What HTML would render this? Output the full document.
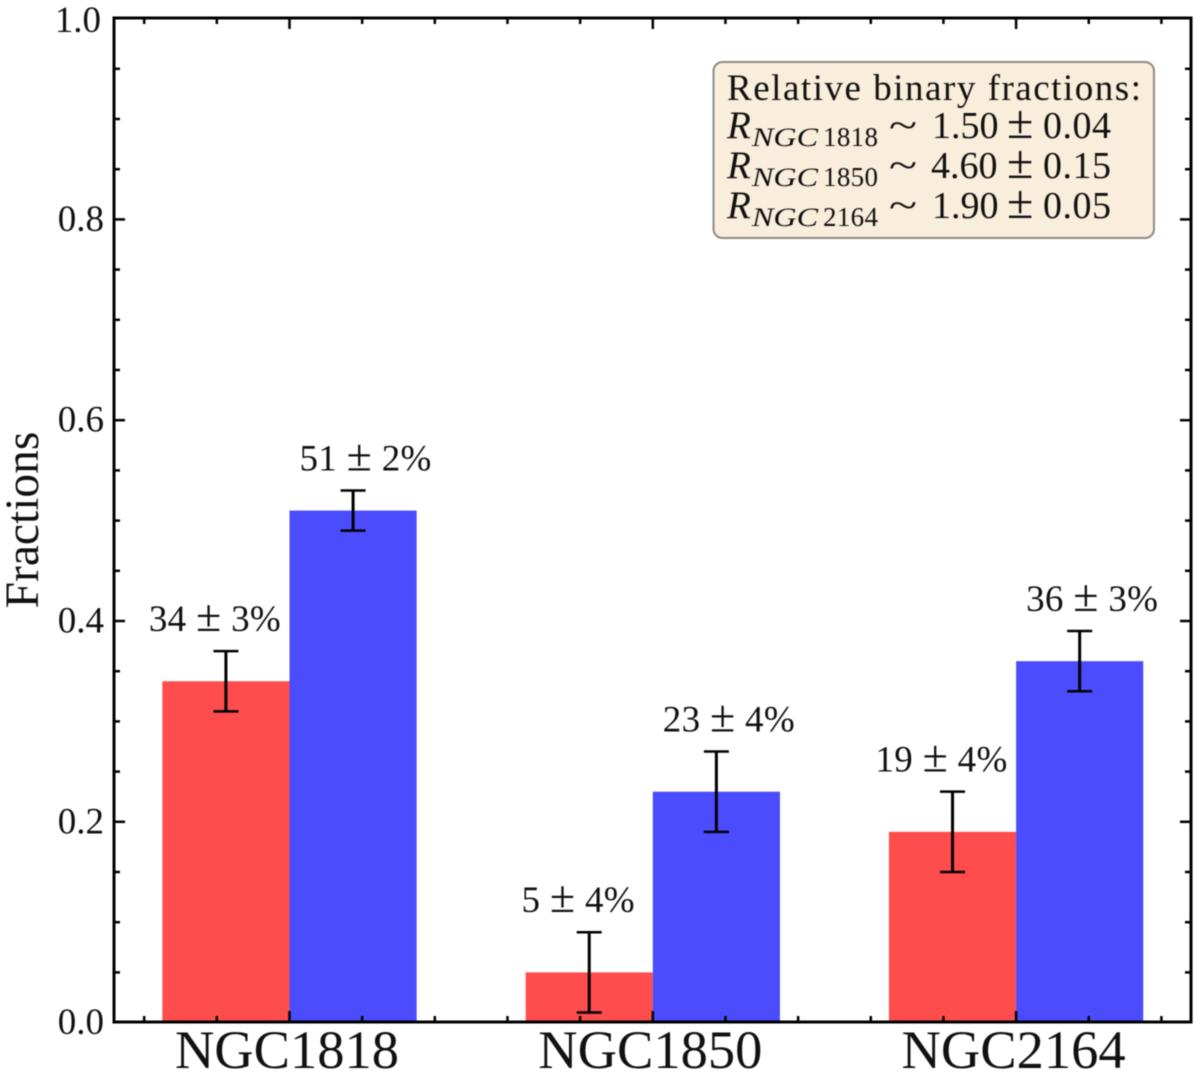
<!DOCTYPE html>
<html lang="en">
<head>
<meta charset="utf-8">
<title>Binary fractions in NGC clusters</title>
<style>
  html, body { margin: 0; padding: 0; background: #fff; }
  #chart { display: block; width: 1200px; height: 1076px; filter: blur(0.4px); }
  text { font-family: "Liberation Serif", "DejaVu Serif", serif; fill: #111; }
  .it { font-style: italic; }
</style>
</head>
<body>
<svg id="chart" xmlns="http://www.w3.org/2000/svg" width="1200" height="1076" viewBox="0 0 1200 1076">
  <rect x="0" y="0" width="1200" height="1076" fill="#fff"></rect>
  <g id="bars"></g>
  <g id="errors"></g>
  <g id="ticks"></g>
  <rect x="114" y="18" width="1077" height="1004" fill="none" stroke="#000" stroke-width="3"></rect>
  <g id="labels"></g>
  <g id="ytick-labels"></g>
  <g id="xtick-labels"></g>
  <text transform="translate(38 520) rotate(-90)" text-anchor="middle" font-size="47.5">Fractions</text>

  <g>
    <rect x="713.5" y="62" width="440.5" height="176" rx="9" ry="9" fill="#f9eddb" stroke="#8f8b80" stroke-width="2"></rect>
    <text x="727" y="100" font-size="37" textLength="414" lengthAdjust="spacing">Relative binary fractions:</text>

    <g>
      <text x="727" y="138" font-size="39" class="it">R</text>
      <text x="752" y="146" font-size="26" class="it" textLength="66" lengthAdjust="spacingAndGlyphs">NGC</text>
      <text x="823" y="146" font-size="27" textLength="55" lengthAdjust="spacing">1818</text>
      <text x="889" y="138" font-size="38" textLength="28" lengthAdjust="spacingAndGlyphs">~</text>
      <text x="932" y="138" font-size="38">1.50</text>
      <text x="1007" y="138" font-size="48">±</text>
      <text x="1043" y="138" font-size="38" textLength="68" lengthAdjust="spacing">0.04</text>
    </g>
    <g>
      <text x="727" y="178" font-size="39" class="it">R</text>
      <text x="752" y="186" font-size="26" class="it" textLength="66" lengthAdjust="spacingAndGlyphs">NGC</text>
      <text x="823" y="186" font-size="27" textLength="55" lengthAdjust="spacing">1850</text>
      <text x="889" y="178" font-size="38" textLength="28" lengthAdjust="spacingAndGlyphs">~</text>
      <text x="931" y="178" font-size="38">4.60</text>
      <text x="1007" y="178" font-size="48">±</text>
      <text x="1043" y="178" font-size="38" textLength="68" lengthAdjust="spacing">0.15</text>
    </g>
    <g>
      <text x="727" y="218" font-size="39" class="it">R</text>
      <text x="752" y="226" font-size="26" class="it" textLength="66" lengthAdjust="spacingAndGlyphs">NGC</text>
      <text x="823" y="226" font-size="27" textLength="55" lengthAdjust="spacing">2164</text>
      <text x="889" y="218" font-size="38" textLength="28" lengthAdjust="spacingAndGlyphs">~</text>
      <text x="932" y="218" font-size="38">1.90</text>
      <text x="1007" y="218" font-size="48">±</text>
      <text x="1043" y="218" font-size="38" textLength="68" lengthAdjust="spacing">0.05</text>
    </g>
  </g>
</svg>

<script>
const categories = ["NGC1818", "NGC1850", "NGC2164"];
const redValues = [0.34, 0.05, 0.19];
const redErrors = [0.03, 0.04, 0.04];
const blueValues = [0.51, 0.23, 0.36];
const blueErrors = [0.02, 0.04, 0.03];
const redLabels = ["34 ± 3%", "5 ± 4%", "19 ± 4%"];
const blueLabels = ["51 ± 2%", "23 ± 4%", "36 ± 3%"];
const yTickValues = [0, 0.2, 0.4, 0.6, 0.8, 1];
const yTickLabels = ["0.0", "0.2", "0.4", "0.6", "0.8", "1.0"];

const NS = "http://www.w3.org/2000/svg";
const barWidth = 0.35;
function xScale(v) { return 289.5 + 363.3 * v; }
function xLength(v) { return 363.3 * v; }
function yScale(v) { return 1022.6 - 1004 * v; }

function make(tag, parent, props) {
  const el = document.createElementNS(NS, tag);
  for (const k in props) el.setAttribute(k, props[k]);
  parent.appendChild(el);
  return el;
}

const barsG = document.getElementById("bars");
const errorsG = document.getElementById("errors");
const labelsG = document.getElementById("labels");
const ticksG = document.getElementById("ticks");
const yLabelsG = document.getElementById("ytick-labels");
const xLabelsG = document.getElementById("xtick-labels");

function drawBar(i, value, error, label, isBlue) {
  const w = xLength(barWidth);
  const left = isBlue ? xScale(i) : xScale(i) - w;
  const cx = left + w / 2;
  const bar = make("rect", barsG, {
    x: left, y: yScale(value), width: w, height: yScale(0) - yScale(value),
    fill: isBlue ? "#4c4cff" : "#ff4c4c"
  });
  
  

  const top = yScale(value + error);
  const bottom = yScale(value - error);
  const stem = make("line", errorsG, { x1: cx, x2: cx, y1: top, y2: bottom, stroke: "#000", "stroke-width": 3 });
  
  
  const capTop = make("line", errorsG, { x1: cx - 12.5, x2: cx + 12.5, y1: top, y2: top, stroke: "#000", "stroke-width": 2.5 });
  
  
  const capBottom = make("line", errorsG, { x1: cx - 12.5, x2: cx + 12.5, y1: bottom, y2: bottom, stroke: "#000", "stroke-width": 2.5 });
  
  

  const text = make("text", labelsG, {
    x: cx + (isBlue ? 12.5 : -11), y: yScale(value + error + 0.02),
    "text-anchor": "middle", "font-size": 37, "letter-spacing": 0.3
  });
  label.split("±").forEach(function (part, k) {
    if (k > 0) {
      const pm = make("tspan", text, { "font-size": 46 });
      pm.textContent = "±";
    }
    const span = make("tspan", text, {});
    span.textContent = part;
  });
  
  
}

categories.forEach(function (name, i) {
  drawBar(i, redValues[i], redErrors[i], redLabels[i], false);
  drawBar(i, blueValues[i], blueErrors[i], blueLabels[i], true);
  const label = make("text", xLabelsG, {
    x: xScale(i) - 2.5, y: 1068, "text-anchor": "middle", "font-size": 54.5
  });
  label.textContent = name;
  
  
});

function tickLine(x1, y1, x2, y2) {
  const t = make("line", ticksG, { x1: x1, y1: y1, x2: x2, y2: y2, stroke: "#000", "stroke-width": 2.5 });
  
  
}

// x ticks: major on categories, minor every 0.2 units
for (let n = -2; n <= 12; n++) {
  const x = xScale(n * 0.2);
  const len = n % 5 === 0 ? 11 : 6;
  tickLine(x, 18, x, 18 + len);
  tickLine(x, 1022, x, 1022 - len);
}
// y ticks: major every 0.2, minor every 0.05
for (let n = 1; n < 20; n++) {
  const y = yScale(n * 0.05);
  const len = n % 4 === 0 ? 11 : 6;
  tickLine(114, y, 114 + len, y);
  tickLine(1191, y, 1191 - len, y);
}

yTickValues.forEach(function (v, i) {
  const label = make("text", yLabelsG, {
    x: v === 1 ? 101 : 104, y: yScale(v) + (v === 1 ? 13.5 : 11.5), "text-anchor": "end", "font-size": 37
  });
  label.textContent = yTickLabels[i];
  
  
});
</script>
</body>
</html>
